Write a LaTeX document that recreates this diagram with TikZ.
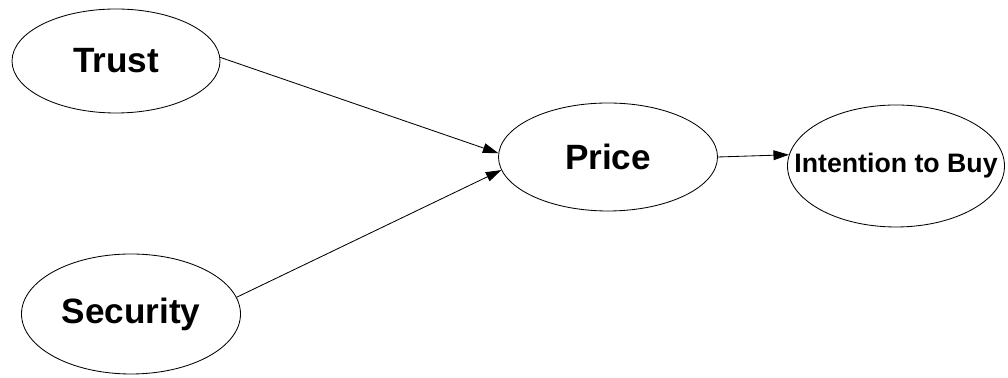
\documentclass[tikz,border=0pt]{standalone}
\usepackage{fontspec}
\setmainfont{Liberation Sans}
\usetikzlibrary{shapes.geometric, arrows.meta}

\begin{document}
\begin{tikzpicture}[
  construct/.style={
    ellipse, draw=black, line width=0.6pt, inner sep=0pt,
    font=\fontsize{25}{28}\selectfont\bfseries
  },
  smalltxt/.style={font=\fontsize{19}{22}\selectfont\bfseries},
  path/.style={line width=0.6pt, -{Triangle[length=11pt, width=7pt]}},
]
  \useasboundingbox (0, 0) rectangle (25.2, 9.45);

  % --- Antecedents ---
  \node[construct, minimum width=5.2cm, minimum height=2.6cm] (trust) at (2.9, 7.925)
    {\makebox[0pt]{Trust}};
  \node[construct, minimum width=5.475cm, minimum height=3.0cm] (security) at (3.275, 1.6)
    {\makebox[0pt]{Security}};

  % --- Mediator and outcome ---
  \node[construct, minimum width=5.475cm, minimum height=2.7cm] (price) at (15.2, 5.525)
    {\makebox[0pt]{Price}};
  \node[construct, smalltxt, minimum width=5.425cm, minimum height=3.05cm] (intent) at (22.4, 5.3)
    {\makebox[0pt]{Intention to Buy}};

  % --- Paths ---
  \draw[path] (trust.2) -- (price.178);
  \draw[path] (security.9) -- (price.187);
  \draw[path] (price.east) -- (intent.174);

\end{tikzpicture}
\end{document}
